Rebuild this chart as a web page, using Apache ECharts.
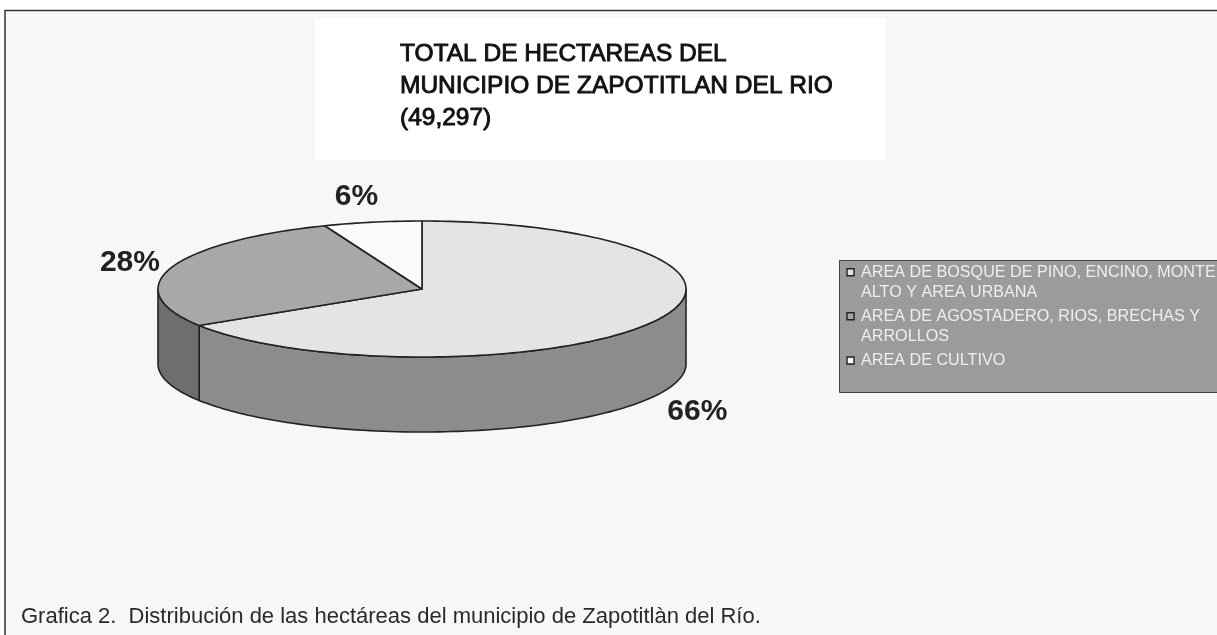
<!DOCTYPE html>
<html><head><meta charset="utf-8">
<style>html,body{margin:0;padding:0;background:#fff}#c{width:1217px;height:635px}</style>
<script src="https://cdn.jsdelivr.net/npm/echarts@6/dist/echarts.min.js"></script>
</head><body><div id="c"></div>
<script>
const titleText = 'TOTAL DE HECTAREAS DEL\nMUNICIPIO DE ZAPOTITLAN DEL RIO\n(49,297)';
const captionText = 'Grafica 2.  Distribución de las hectáreas del municipio de Zapotitlàn del Río.';
const categories = ['AREA DE BOSQUE DE PINO, ENCINO, MONTE\nALTO Y AREA URBANA','AREA DE AGOSTADERO, RIOS, BRECHAS Y\nARROLLOS','AREA DE CULTIVO'];
const values = [66, 28, 6];
const topColors = ['#e4e4e4','#a8a8a8','#fbfbfb'];
const sideColors = ['#8c8c8c','#6e6e6e','#bdbdbd'];
const labelOffsets = [[44,90],[-41,-5],[-16,-25]];
const cx = 422, cy = 289, rx = 264, ry = 68, depth = 75;
const total = values.reduce((a,b)=>a+b,0);
const pt = (deg, dy) => { const r = deg*Math.PI/180; return [cx+rx*Math.sin(r), cy-ry*Math.cos(r)+(dy||0)]; };
const range = i => { let s=0; for(let k=0;k<i;k++) s+=values[k]; return [s/total*360,(s+values[i])/total*360]; };
const arc = (a,b,dy) => { const o=[]; const n=Math.max(2,Math.ceil(Math.abs(b-a)/1.5)); for(let k=0;k<=n;k++) o.push(pt(a+(b-a)*k/n,dy)); return o; };
const stroke = {stroke:'#222',lineWidth:1.6,lineJoin:'round'};

function renderSide(params, api){
  const [a,b] = range(params.dataIndex);
  const s=Math.max(a,90), e=Math.min(b,270);
  if(e<=s) return {type:'group',children:[]};
  const pts = arc(s,e,0).concat(arc(e,s,depth));
  return {type:'polygon',shape:{points:pts},style:Object.assign({fill:sideColors[params.dataIndex]},stroke)};
}
function renderTop(params, api){
  const i=params.dataIndex, [a,b] = range(i);
  const pts = [[cx,cy]].concat(arc(a,b,0));
  const m = pt((a+b)/2,0), off = labelOffsets[i];
  return {type:'group',children:[
    {type:'polygon',shape:{points:pts},style:Object.assign({fill:topColors[i]},stroke)},
    {type:'text',x:m[0]+off[0],y:m[1]+off[1],style:{text:api.value(0)+'%',fill:'#222',font:'bold 30px "Liberation Sans"',align:'center',verticalAlign:'middle'},z2:10}
  ]};
}
const seriesData = values.map((v,i)=>({name:categories[i],value:[v]}));
const lineY = [[272.7,292.7],[316.7,336.7],[361]];
const legendEls = [{type:'rect',shape:{x:839.5,y:260.5,width:385,height:132},style:{fill:'#9b9b9b',stroke:'#444',lineWidth:1},z:5}];
categories.forEach((c,i)=>{
  legendEls.push({type:'rect',shape:{x:847,y:lineY[i][0]-4,width:7,height:7},style:{fill:topColors[i],stroke:'#222',lineWidth:1.4},z:6});
  c.split('\n').forEach((t,j)=>{
    legendEls.push({type:'text',x:861,y:lineY[i][j],scaleX:1.01,style:{text:t,fill:'#eeeeee',font:'16px "Liberation Sans"',verticalAlign:'middle'},z:6});
  });
});
const chart = echarts.init(document.getElementById('c'),null,{renderer:'canvas'});
chart.setOption({
  animation:false,
  backgroundColor:'#fff',
  title:[
    {text:titleText,left:395,top:33,textStyle:{fontFamily:'Liberation Sans',fontSize:24.5,fontWeight:'normal',color:'#111',lineHeight:32,textBorderColor:'#111',textBorderWidth:0.9}},
    {text:captionText,left:16,top:601,textStyle:{fontFamily:'Liberation Sans',fontSize:22,fontWeight:'normal',color:'#2a2a2a'}}
  ],
  graphic:[
    {type:'rect',shape:{x:5,y:10.5,width:1220,height:640},style:{fill:'#f7f7f7',stroke:'#333',lineWidth:1.5},z:-10},
    {type:'rect',shape:{x:315,y:18,width:571,height:142},style:{fill:'#fff'},z:-9},
    ...legendEls
  ],
  series:[
    {type:'custom',coordinateSystem:'none',renderItem:renderSide,data:seriesData,silent:true},
    {type:'custom',coordinateSystem:'none',renderItem:renderTop,data:seriesData,silent:true}
  ]
});
</script></body></html>
